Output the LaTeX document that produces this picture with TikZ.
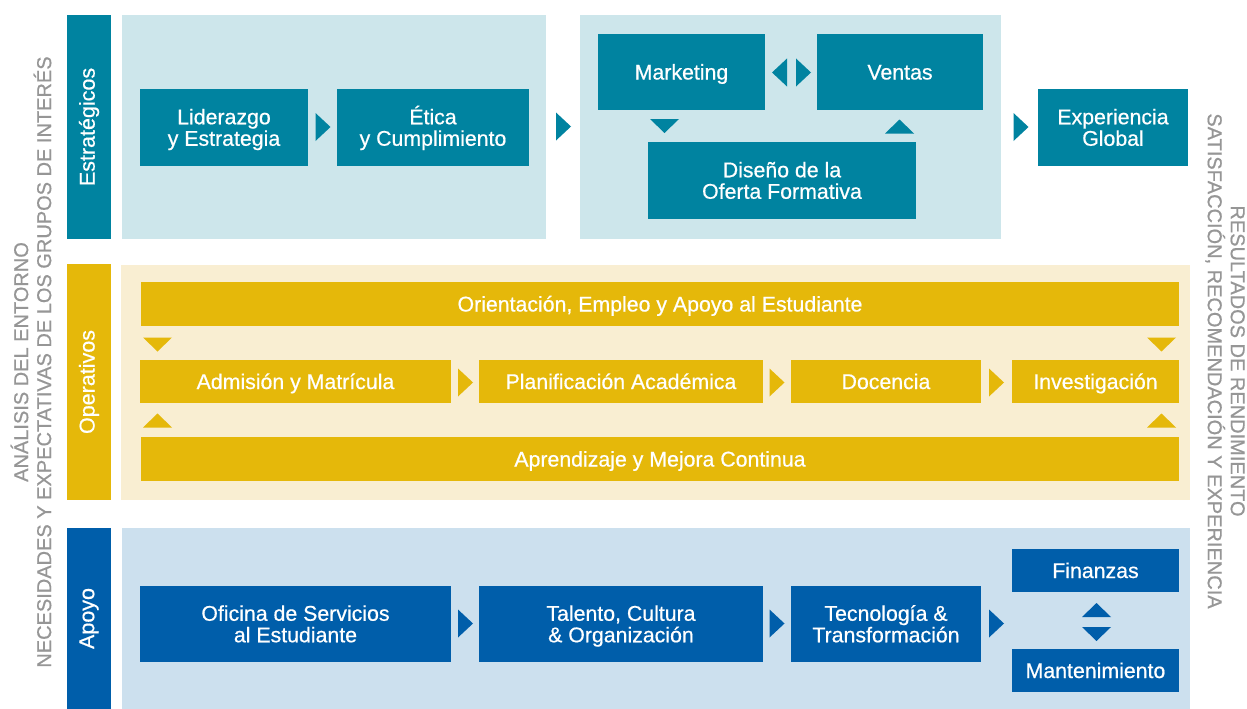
\documentclass[tikz,border=0pt]{standalone}
\usepackage{fontspec}
\setmainfont{Liberation Sans}
\newfontfamily\medfont{Liberation Sans}[FakeBold=0.6]
\definecolor{teal}{RGB}{0,131,160}
\definecolor{tealL}{RGB}{205,230,235}
\definecolor{gold}{RGB}{229,184,10}
\definecolor{goldL}{RGB}{249,238,210}
\definecolor{blue}{RGB}{0,94,170}
\definecolor{blueL}{RGB}{204,224,238}
\definecolor{grayT}{RGB}{150,150,150}
\tikzset{
  box/.style={fill=#1, inner sep=0pt},
  boxtext/.style={text=white, inner sep=0pt, align=center, yshift=-2pt,
    text height=15.5pt, text depth=4.5pt,
    font=\medfont\fontsize{21.3}{21.5}\selectfont},
  two/.style={text height=37pt},
  panel/.style={fill=#1, inner sep=0pt},
  band/.style={fill=#1, text=white, inner sep=0pt, rotate=90,
    font=\medfont\fontsize{21.5}{22}\selectfont},
  side/.style={text=grayT, inner sep=0pt, align=center,
    font=\medfont\fontsize{20}{23}\selectfont},
  triR/.pic={\fill (-7.5,-14) -- (7.5,0) -- (-7.5,14) -- cycle;},
  triL/.pic={\fill (7.5,-14) -- (-7.5,0) -- (7.5,14) -- cycle;},
  triD/.pic={\fill (-14.5,-7) -- (14.5,-7) -- (0,7) -- cycle;},
  triU/.pic={\fill (-14.5,7) -- (14.5,7) -- (0,-7) -- cycle;},
}
\newcommand{\bx}[8][]{% [extra], name, color, cx, cy, w, h, text
  \node[box=#3, minimum width=#6pt, minimum height=#7pt,
    label={[boxtext,#1]center:{#8}}] (#2) at (#4,#5) {};}
\begin{document}
\begin{tikzpicture}[x=1pt,y=-1pt]
\useasboundingbox (0,0) rectangle (1247,709);
\fill[white] (0,0) rectangle (1247,709);

% side texts
\node[side, rotate=90] (left) at (31,362) {ANÁLISIS DEL ENTORNO\\NECESIDADES Y EXPECTATIVAS DE LOS GRUPOS DE INTERÉS};
\node[side, rotate=-90] (right) at (1225,361) {RESULTADOS DE RENDIMIENTO\\SATISFACCIÓN, RECOMENDACIÓN Y EXPERIENCIA};

% ===== Estratégicos
\node[band=teal, minimum width=224pt, minimum height=44pt] (bE) at (89,127) {Estratégicos};
\node[panel=tealL, minimum width=424pt, minimum height=224pt] (p1) at (334,127) {};
\node[panel=tealL, minimum width=421pt, minimum height=224pt] (p2) at (790.5,127) {};
\bx[two]{lid}{teal}{224}{127.5}{168}{77}{Liderazgo\\y Estrategia}
\bx[two]{eti}{teal}{433}{127.5}{192}{77}{Ética\\y Cumplimiento}
\bx{mkt}{teal}{681.5}{72}{167}{76}{Marketing}
\bx{ven}{teal}{900}{72}{166}{76}{Ventas}
\bx[two]{dis}{teal}{782}{180.5}{268}{77}{Diseño de la\\Oferta Formativa}
\bx[two]{exp}{teal}{1113}{127.5}{150}{77}{Experiencia\\Global}
\begin{scope}[teal]
  \pic at (323,127) {triR};
  \pic at (563.5,126.5) {triR};
  \pic at (1021,127) {triR};
  \pic at (779.5,72.5) {triL};
  \pic at (803.5,72.5) {triR};
  \pic at (664.5,126) {triD};
  \pic at (899.5,126.5) {triU};
\end{scope}

% ===== Operativos
\node[band=gold, minimum width=236pt, minimum height=44pt] (bO) at (89,382) {Operativos};
\node[panel=goldL, minimum width=1069pt, minimum height=235pt] (p3) at (655.5,382.5) {};
\bx{ori}{gold}{660}{304}{1038}{44}{Orientación, Empleo y Apoyo al Estudiante}
\bx{adm}{gold}{295.5}{381.5}{311}{43}{Admisión y Matrícula}
\bx{pla}{gold}{621}{381.5}{284}{43}{Planificación Académica}
\bx{doc}{gold}{886}{381.5}{190}{43}{Docencia}
\bx{inv}{gold}{1095.5}{381.5}{167}{43}{Investigación}
\bx{apr}{gold}{660}{459}{1038}{44}{Aprendizaje y Mejora Continua}
\begin{scope}[gold]
  \pic at (157.5,344.5) {triD};
  \pic at (1161.5,344.5) {triD};
  \pic at (157.5,420.5) {triU};
  \pic at (1161.5,420.5) {triU};
  \pic at (465.5,382.5) {triR};
  \pic at (777,382.5) {triR};
  \pic at (996.5,382.5) {triR};
\end{scope}

% ===== Apoyo
\node[band=blue, minimum width=181pt, minimum height=44pt] (bA) at (89,618.5) {Apoyo};
\node[panel=blueL, minimum width=1068pt, minimum height=181pt] (p4) at (656,618.5) {};
\bx[two]{ofi}{blue}{295.5}{624}{311}{76}{Oficina de Servicios\\al Estudiante}
\bx[two]{tal}{blue}{621}{624}{284}{76}{Talento, Cultura\\\& Organización}
\bx[two]{tec}{blue}{886}{624}{190}{76}{Tecnología \&\\Transformación}
\bx{fin}{blue}{1095.5}{570.5}{167}{43}{Finanzas}
\bx{man}{blue}{1095.5}{670.5}{167}{43}{Mantenimiento}
\begin{scope}[blue]
  \pic at (465.5,623.5) {triR};
  \pic at (777,623.5) {triR};
  \pic at (996.5,623.5) {triR};
  \pic at (1096.5,610) {triU};
  \pic at (1096.5,634) {triD};
\end{scope}
\end{tikzpicture}
\end{document}
